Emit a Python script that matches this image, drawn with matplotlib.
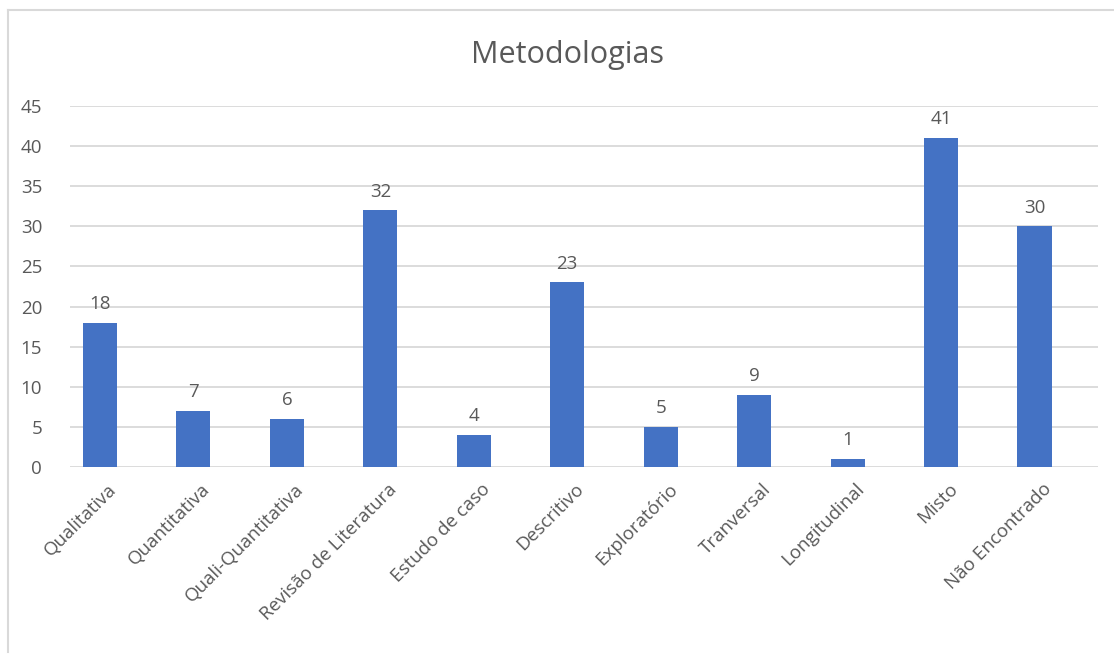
import matplotlib.pyplot as plt
from matplotlib.lines import Line2D
from matplotlib.transforms import ScaledTranslation

categories = ['Qualitativa', 'Quantitativa', 'Quali-Quantitativa', 'Revisão de Literatura',
              'Estudo de caso', 'Descritivo', 'Exploratório', 'Tranversal',
              'Longitudinal', 'Misto', 'Não Encontrado']
counts = [18, 7, 6, 32, 4, 23, 5, 9, 1, 41, 30]
y_ticks = [0, 5, 10, 15, 20, 25, 30, 35, 40, 45]

W, H = 1114, 655
TEXT = '#595959'
plt.rcParams['font.family'] = ['Open Sans', 'DejaVu Sans']

fig = plt.figure(figsize=(W / 100, H / 100), dpi=100)
# plot area in pixels: x 70..1098, y 106..467
ax = fig.add_axes([70 / W, 1 - 467 / H, 1028 / W, 361 / H])

x = list(range(len(categories)))
ax.bar(x, counts, width=0.365, color='#4472C4', zorder=3)

# value labels
for xi, v in zip(x, counts):
    ax.annotate(str(v), (xi, v), xytext=(0, 7), textcoords='offset points',
                ha='center', va='bottom', fontsize=13.5, color=TEXT)

ax.set_xlim(-0.321, 10.68)
ax.set_ylim(0, 45)
ax.set_yticks(y_ticks)
ax.set_xticks(x)
ax.set_xticklabels(categories, rotation=45, ha='right', va='center',
                   rotation_mode='anchor', fontsize=13.5, color=TEXT)
ax.tick_params(axis='both', length=0, colors=TEXT, labelsize=13.5)
ax.tick_params(axis='x', pad=14)
ax.tick_params(axis='y', pad=20)

# shift rotated labels a bit to the right, like excel does
shift = ScaledTranslation(14 / 100, 0, fig.dpi_scale_trans)
for lbl in ax.get_xticklabels():
    lbl.set_transform(lbl.get_transform() + shift)

ax.grid(axis='y', color='#D9D9D9', linewidth=1.3, zorder=0)
for s in ax.spines.values():
    s.set_visible(False)

fig.text(568 / W, 1 - 55 / H, 'Metodologias', ha='center', va='center',
         fontsize=22, color=TEXT)

# outer chart border (left and top edges visible)
fig.add_artist(Line2D([8 / W, 8 / W], [1 - 10 / H, 1 - 652 / H],
                      transform=fig.transFigure, color='#D9D9D9', linewidth=1.5))
fig.add_artist(Line2D([8 / W, 1], [1 - 10 / H, 1 - 10 / H],
                      transform=fig.transFigure, color='#D9D9D9', linewidth=1.5))

fig.savefig('out.png', dpi=100)
